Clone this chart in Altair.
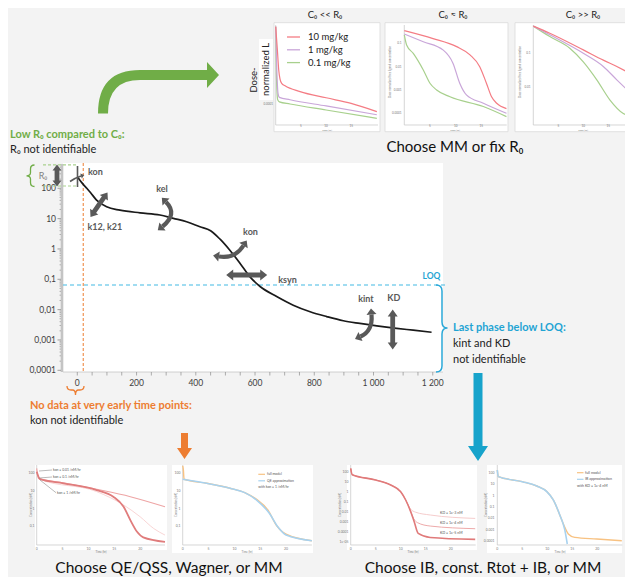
import math
import altair as alt
import pandas as pd

W, H = 617, 569
M = 8  # page margin: reference pixel -> canvas pixel
FONT = "Lato"
BG = "#f3f3f3"
DARK = "#595959"
GREEN = "#70ad47"
CYAN = "#1fa4d3"
ORANGE = "#ed7d31"
AXC = "#c4c4c4"
TICKC = "#8c8c8c"
LBL = "#808080"

ONE = pd.DataFrame({"k": [0]})

# ---------------- main chart data ----------------
MAIN_T = [0, 10, 20, 32, 45, 65, 99, 144, 212, 279, 324, 369, 414, 450, 482, 515, 549, 583, 617,
          673, 729, 786, 842, 898, 954, 1011, 1078, 1134, 1196]
MAIN_C = [240, 178, 135, 100, 71, 41, 24.5, 19, 15.5, 13.2, 10.2, 7.9, 5.4, 4.0, 2.1, 0.91, 0.34,
          0.12, 0.058, 0.027, 0.014, 0.0085, 0.0059, 0.0043, 0.0035, 0.0029, 0.0024, 0.0021, 0.0018]
MAIN_YTICKS = [100, 10, 1, 0.1, 0.01, 0.001, 0.0001]
MAIN_YLABELS = ["100", "10", "1", "0,1", "0,01", "0,001", "0,0001"]
MAIN_XTICKS = [0, 200, 400, 600, 800, 1000, 1200]
MAIN_XLABELS = ["0", "200", "400", "600", "800", "1 000", "1 200"]
LOQ = 0.065
EARLY_T = 20
R0_BAND = [119, 590]

# ---------------- top thumbnails ----------------
T1_RED_T = [0, 0.33, 0.6, 0.86, 1.19, 1.85, 4.83, 10, 14.97, 20.07]
T1_RED_C = [0.575, 0.043, 0.0045, 0.0016, 0.001, 0.00076, 0.0004, 0.0002, 0.000107, 0.0000427]
T1_PUR_T = [0, 0.2, 0.46, 0.73, 2.85, 10, 20.07]
T1_PUR_C = [0.575, 0.0066, 0.00033, 0.00021, 0.00016, 0.00008, 0.00003]
T1_GRN_T = [0, 0.13, 0.4, 0.73, 2.85, 10, 20.07]
T1_GRN_C = [0.575, 0.0031, 0.00016, 0.000126, 0.0001, 0.000051, 0.00002]

T2_RED_T = [0, 5.6, 10.2, 12.8, 14.7, 16.0, 17.0, 18.0, 19.9]
T2_RED_C = [0.35, 0.16, 0.072, 0.032, 0.01, 0.00195, 0.00051, 0.00027, 0.00016]
T2_PUR_T = [0, 3.7, 7.6, 9.5, 10.8, 12.1, 15.4, 19.9]
T2_PUR_C = [0.25, 0.117, 0.051, 0.0138, 0.00195, 0.00062, 0.00027, 0.0001]
T2_GRN_T = [0, 0.45, 1.75, 3.7, 5.0, 6.3, 8.9, 15.4, 19.9]
T2_GRN_C = [0.23, 0.085, 0.037, 0.0072, 0.00195, 0.001, 0.00051, 0.000195, 0.000072]

T3_RED_T = [0, 3.3, 10, 14, 16.7, 19.9]
T3_RED_C = [0.63, 0.39, 0.126, 0.063, 0.041, 0.023]
T3_PUR_T = [0, 3.3, 10, 14, 16.7, 19.9]
T3_PUR_C = [0.63, 0.35, 0.1, 0.041, 0.0166, 0.0059]
T3_GRN_T = [0, 3.3, 7.3, 10, 12.7, 15.3, 18, 19.9]
T3_GRN_C = [0.63, 0.31, 0.141, 0.056, 0.0166, 0.0043, 0.0017, 0.0014]

TOP_XTICKS = [5, 10, 15]
TOP_XLABELS = ["5", "10", "15"]
TOP_YTICKS = [0.1, 0.01, 0.001, 0.0001]
TOP_YLABELS = ["0.1", "0.01", "0.001", "0.0001"]
DOSES = ["10 mg/kg", "1 mg/kg", "0.1 mg/kg"]

# ---------------- bottom thumbnails ----------------
B1_SLOW_T = [0, 0.32, 5.16, 11.6, 18.1, 24.8]
B1_SLOW_C = [190, 52, 29, 12.3, 4.7, 1.26]
B1_MID_T = [0, 0.65, 11.6, 16.8, 20, 22.6, 24.8]
B1_MID_C = [155, 46, 9.1, 1.58, 0.34, 0.074, 0.031]
B1_FAST_T = [0, 0.65, 5.16, 11.6, 14.8, 16.8, 18.1, 19.4, 20.6, 24.8]
B1_FAST_C = [123, 46, 27, 11.2, 4.7, 1.26, 0.22, 0.048, 0.023, 0.0129]
KON_LABELS = ["kon = 0.01 /nM/hr", "kon = 0.1 /nM/hr", "kon = 1 /nM/hr"]

B2_FULL_T = [0, 0.13, 0.26, 4.65, 9.16, 12, 14.3, 16.5, 18.1, 20.0, 25]
B2_FULL_C = [263, 155, 46, 27, 14.1, 8, 3.3, 0.81, 0.115, 0.035, 0.0148]
B2_QE_T = [0, 4.65, 9.16, 12, 14.3, 16.8, 18.4, 20.0, 25.0]
B2_QE_C = [46, 27, 14.1, 8, 3.0, 0.52, 0.091, 0.031, 0.0148]

B3_TOP_T = [0, 0.3, 5, 8, 10, 11, 12, 13, 15.9, 24.9]
B3_TOP_C = [214, 50, 14.8, 4.7, 1.0, 0.148, 0.0178, 0.0089, 0.0047, 0.00214]
B3_MID_T = [0, 0.3, 5, 8, 10, 11, 12, 12.6, 13.4, 15.9, 24.9]
B3_MID_C = [214, 50, 14.8, 4.7, 1.0, 0.148, 0.0112, 0.002, 0.00079, 0.00037, 0.0002]
B3_BOT_T = [0, 0.3, 5, 8, 10, 11, 12, 12.7, 13.5, 15.9, 24.9]
B3_BOT_C = [214, 50, 14.8, 4.7, 1.0, 0.148, 0.01, 0.001, 0.000068, 0.0000269, 0.000017]
KD_LABELS = ["KD = 1e-3 nM", "KD = 1e-4 nM", "KD = 1e-5 nM"]

B4_FULL_T = [0, 0.2, 5, 7.9, 9.9, 11.2, 12.5, 13.5, 14.2, 15.5, 19.9, 24.9]
B4_FULL_C = [170, 45, 16.2, 6.8, 2.2, 0.41, 0.02, 0.00166, 0.00044, 0.00022, 0.000158, 0.000112]
B4_IB_T = [0, 0.2, 5, 7.9, 9.9, 11.2, 12.5, 13.5, 14.0]
B4_IB_C = [170, 45, 16.2, 6.8, 2.2, 0.41, 0.02, 0.00098, 0.0000575]

BOT_XTICKS = [0, 5, 10, 15, 20]
BOT_XLABELS = ["0", "5", "10", "15", "20"]
B12_YTICKS = [100, 10, 1, 0.1]
B12_YLABELS = ["100", "10", "1", "0,1"]
B3_YTICKS = [100, 10, 1, 0.1, 0.01, 0.001, 0.0001, 0.00001]
B3_YLABELS = ["100", "10", "1", "0.1", "0.01", "0.001", "0.0001", "1e-05"]
B4_YTICKS = [100, 10, 1, 0.1, 0.01, 0.001, 0.0001]
B4_YLABELS = ["100", "10", "1", "0.1", "0.01", "0.001", "0.0001"]


# ---------------- helpers ----------------
def P(v):
    return round(v - M, 2)


def txt(s, x, y, size=9.0, color="#222222", weight="normal", align="left", angle=0, baseline="middle"):
    kw = dict(text=s, fontSize=size, color=color, fontWeight=weight, align=align,
              baseline=baseline, font=FONT)
    if angle:
        kw["angle"] = angle
    return alt.Chart(ONE).mark_text(**kw).encode(x=alt.value(P(x)), y=alt.value(P(y)))


def rect(x0, y0, x1, y1, fill, stroke="", sw=0.0):
    kw = dict(fill=fill)
    if stroke:
        kw["stroke"] = stroke
        kw["strokeWidth"] = sw
    else:
        kw["strokeWidth"] = 0
    return alt.Chart(ONE).mark_rect(**kw).encode(
        x=alt.value(P(x0)), x2=alt.value(P(x1)), y=alt.value(P(y0)), y2=alt.value(P(y1)))


def seg(x0, y0, x1, y1, color, width=1.0, dash=None):
    kw = dict(color=color, strokeWidth=width)
    if dash:
        kw["strokeDash"] = dash
    return alt.Chart(ONE).mark_rule(**kw).encode(
        x=alt.value(P(x0)), y=alt.value(P(y0)), x2=alt.value(P(x1)), y2=alt.value(P(y1)))


def cpt(x, y):
    return f"{x - M:.1f},{y - M:.1f}"


def poly_path(pts):
    return "M" + " L".join(cpt(x, y) for x, y in pts) + " Z"


def shape_layer(path, color, filled=True, sw=0.0):
    kw = dict(shape=path, size=4, opacity=1, color=color, filled=filled)
    if filled:
        kw["strokeWidth"] = 0
    else:
        kw["strokeWidth"] = sw
        kw["strokeCap"] = "butt"
    return alt.Chart(ONE).mark_point(**kw).encode(x=alt.value(0), y=alt.value(0))


def head_pts(bx, by, dx, dy, h=6.0, hw=5.0):
    n = math.hypot(dx, dy)
    dx, dy = dx / n, dy / n
    return [(bx + dx * h, by + dy * h), (bx - dy * hw, by + dx * hw), (bx + dy * hw, by - dx * hw)]


def dbl_arrow(cx, cy, L, ang, color=DARK, w=2.2, h=6.0, hw=4.8):
    a = L / 2
    local = [(-a, 0), (-a + h, -hw), (-a + h, -w), (a - h, -w), (a - h, -hw), (a, 0),
             (a - h, hw), (a - h, w), (-a + h, w), (-a + h, hw)]
    th = math.radians(ang)
    pts = [(cx + x * math.cos(th) - y * math.sin(th), cy + x * math.sin(th) + y * math.cos(th))
           for x, y in local]
    return shape_layer(poly_path(pts), color)


def curved_arrow(p0, c, p2, color=DARK, sw=4.2, h=6.0, hw=5.0, heads=(True, True)):
    out = [shape_layer(f"M{cpt(*p0)} Q{cpt(*c)} {cpt(*p2)}", color, filled=False, sw=sw)]
    if heads[0]:
        out.append(shape_layer(poly_path(head_pts(p0[0], p0[1], p0[0] - c[0], p0[1] - c[1], h, hw)), color))
    if heads[1]:
        out.append(shape_layer(poly_path(head_pts(p2[0], p2[1], p2[0] - c[0], p2[1] - c[1], h, hw)), color))
    return out


def thumb(xr, yr, xdom, ydom, curves, xticks, xlabels, yticks, ylabels, ylab_x, xlab_y, fs=3.4):
    xs = alt.Scale(domain=xdom, range=[P(xr[0]), P(xr[1])], zero=False, nice=False)
    ys = alt.Scale(type="log", domain=ydom, range=[P(yr[1]), P(yr[0])], nice=False)
    out = [seg(xr[0], yr[0], xr[0], yr[1], AXC, 0.7), seg(xr[0], yr[1], xr[1], yr[1], AXC, 0.7)]
    for t, c, color, width in curves:
        df = pd.DataFrame({"t": t, "c": c})
        out.append(alt.Chart(df).mark_line(color=color, strokeWidth=width, interpolate="monotone").encode(
            x=alt.X("t:Q", scale=xs, axis=None), y=alt.Y("c:Q", scale=ys, axis=None)))
    out.append(alt.Chart(pd.DataFrame({"v": xticks, "l": xlabels})).mark_text(
        fontSize=fs, color="#777777", font=FONT, baseline="top").encode(
        x=alt.X("v:Q", scale=xs, axis=None), y=alt.value(P(xlab_y)), text="l:N"))
    out.append(alt.Chart(pd.DataFrame({"v": yticks, "l": ylabels})).mark_text(
        fontSize=fs, color="#777777", font=FONT, align="right", baseline="middle").encode(
        y=alt.Y("v:Q", scale=ys, axis=None), x=alt.value(P(ylab_x)), text="l:N"))
    return out


layers = []

# ---------------- main chart ----------------
main_x = alt.Scale(domain=[-48.3, 1234.6], range=[P(63), P(443)], zero=False, nice=False)
main_y = alt.Scale(type="log", domain=[8.79e-5, 682], range=[P(372), P(163)], nice=False)

layers.append(rect(63, 163, 443, 372, "white"))
# axes
layers.append(seg(62, 164, 62, 372, AXC, 2.6))
layers.append(seg(63, 372, 443, 372, AXC, 0.8))
layers.append(alt.Chart(pd.DataFrame({"v": MAIN_YTICKS})).mark_rule(color=TICKC, strokeWidth=0.8).encode(
    y=alt.Y("v:Q", scale=main_y, axis=None), x=alt.value(P(57.5)), x2=alt.value(P(61))))
minor_y = [m * 10.0 ** e for e in range(-4, 3) for m in range(2, 10) if m * 10.0 ** e < 600]
layers.append(alt.Chart(pd.DataFrame({"v": minor_y})).mark_rule(color=TICKC, strokeWidth=0.6).encode(
    y=alt.Y("v:Q", scale=main_y, axis=None), x=alt.value(P(59.5)), x2=alt.value(P(61))))
layers.append(alt.Chart(pd.DataFrame({"v": list(range(0, 1201, 50))})).mark_rule(color=TICKC, strokeWidth=0.7).encode(
    x=alt.X("v:Q", scale=main_x, axis=None), y=alt.value(P(372)), y2=alt.value(P(375.5))))
layers.append(alt.Chart(pd.DataFrame({"v": MAIN_YTICKS, "l": MAIN_YLABELS})).mark_text(
    fontSize=8.5, color="#404040", font=FONT, align="right", baseline="middle").encode(
    y=alt.Y("v:Q", scale=main_y, axis=None), x=alt.value(P(56)), text="l:N"))
layers.append(alt.Chart(pd.DataFrame({"v": MAIN_XTICKS, "l": MAIN_XLABELS})).mark_text(
    fontSize=8.5, color="#404040", font=FONT, baseline="middle").encode(
    x=alt.X("v:Q", scale=main_x, axis=None), y=alt.value(P(382.5)), text="l:N"))

# reference lines
layers.append(alt.Chart(pd.DataFrame({"c": [LOQ]})).mark_rule(color="#43b9e3", strokeWidth=1.1, strokeDash=[4, 3]).encode(
    y=alt.Y("c:Q", scale=main_y, axis=None), x=alt.value(P(63)), x2=alt.value(P(447))))
layers.append(alt.Chart(pd.DataFrame({"t": [EARLY_T]})).mark_rule(color=ORANGE, strokeWidth=1.0, strokeDash=[3, 2]).encode(
    x=alt.X("t:Q", scale=main_x, axis=None), y=alt.value(P(163)), y2=alt.value(P(372))))
layers.append(alt.Chart(pd.DataFrame({"c": R0_BAND})).mark_rule(color="#a9d18e", strokeWidth=1.2, strokeDash=[3, 2]).encode(
    y=alt.Y("c:Q", scale=main_y, axis=None), x=alt.value(P(43)), x2=alt.value(P(78))))

# curve
layers.append(alt.Chart(pd.DataFrame({"t": MAIN_T, "c": MAIN_C})).mark_line(
    color="#1a1a1a", strokeWidth=1.7, interpolate="monotone").encode(
    x=alt.X("t:Q", scale=main_x, axis=None), y=alt.Y("c:Q", scale=main_y, axis=None)))

# parameter arrows
layers.append(dbl_arrow(57, 175.5, 22, 90, w=2.4, h=6, hw=4.5))
layers.append(dbl_arrow(99, 204.7, 30, -55.3, w=2.4, h=6.5, hw=5))
layers.append(dbl_arrow(246.7, 275, 41, 0, w=2.4, h=7, hw=5.5))
layers.append(dbl_arrow(392.7, 329.5, 40, 90, w=2.4, h=7, hw=5))
layers += curved_arrow((166, 202), (178, 214), (162.5, 226.5))
layers += curved_arrow((219, 256.5), (235, 259), (243.5, 245.5))
layers += curved_arrow((371.5, 314.5), (373, 331), (360.5, 336.5))
layers.append(seg(77.5, 166, 77.5, 187, DARK, 1.6))
layers.append(shape_layer(f"M{cpt(70, 181.5)} Q{cpt(75, 178)} {cpt(81, 176)}", DARK, filled=False, sw=1.6))
layers.append(shape_layer(poly_path(head_pts(81, 176, 6, -2, 3.5, 2.6)), DARK))

# parameter labels
for s, x, y, al in [("kon", 88, 172, "left"), ("k12, k21", 87.5, 226.5, "left"), ("kel", 162, 188.5, "center"),
                    ("kon", 250.5, 232, "center"), ("ksyn", 287.5, 279.5, "center"),
                    ("kint", 366, 298.5, "center"), ("KD", 393.8, 297.5, "center")]:
    layers.append(txt(s, x, y, 9, DARK, "bold", al))
layers.append(txt("LOQ", 431.5, 276, 8.5, CYAN, "bold", "center"))
layers.append(txt("R₀", 43, 176, 9, LBL, "normal", "center"))

# braces
layers.append(shape_layer(
    f"M{cpt(34.5, 165)} Q{cpt(30.5, 165)} {cpt(30.5, 169)} L{cpt(30.5, 172.5)} Q{cpt(30.5, 175.8)} {cpt(26.5, 175.8)} "
    f"Q{cpt(30.5, 175.8)} {cpt(30.5, 179)} L{cpt(30.5, 182.5)} Q{cpt(30.5, 186.5)} {cpt(34.5, 186.5)}",
    GREEN, filled=False, sw=1.3))
layers.append(shape_layer(
    f"M{cpt(436, 285)} Q{cpt(442, 285)} {cpt(442, 291)} L{cpt(442, 322)} Q{cpt(442, 328)} {cpt(447.5, 328)} "
    f"Q{cpt(442, 328)} {cpt(442, 334)} L{cpt(442, 366)} Q{cpt(442, 372)} {cpt(436, 372)}",
    "#2aa8d8", filled=False, sw=1.5))
layers.append(shape_layer(
    f"M{cpt(67, 386)} Q{cpt(67, 390)} {cpt(71, 390)} L{cpt(72.5, 390)} Q{cpt(75.5, 390)} {cpt(75.5, 395)} "
    f"Q{cpt(75.5, 390)} {cpt(78.5, 390)} L{cpt(80, 390)} Q{cpt(84, 390)} {cpt(84, 386)}",
    ORANGE, filled=False, sw=1.3))

# big arrows
layers.append(shape_layer(
    f"M{cpt(98, 113.5)} Q{cpt(98, 70)} {cpt(140, 70)} L{cpt(207, 70)} L{cpt(207, 62)} L{cpt(219, 75)} "
    f"L{cpt(207, 88)} L{cpt(207, 80)} L{cpt(140, 80)} Q{cpt(108, 80)} {cpt(108, 113.5)} Z", GREEN))
layers.append(shape_layer(poly_path([(473.5, 373), (482.5, 373), (482.5, 446), (488, 446), (478, 461),
                                     (468, 446), (473.5, 446)]), "#17a3cb"))
layers.append(shape_layer(poly_path([(181, 433), (188, 433), (188, 448), (192, 448), (184.5, 459),
                                     (177, 448), (181, 448)]), ORANGE))

# text blocks
layers.append(txt("Low R₀ compared to C₀:", 10, 135, 11, GREEN, "bold"))
layers.append(txt("R₀ not identifiable", 10, 150, 11, "#222222"))
layers.append(txt("Last phase below LOQ:", 453, 328, 11, CYAN, "bold"))
layers.append(txt("kint and KD", 453, 344, 11, "#222222"))
layers.append(txt("not identifiable", 453, 360, 11, "#222222"))
layers.append(txt("No data at very early time points:", 30, 406, 11, ORANGE, "bold"))
layers.append(txt("kon not identifiable", 30, 421, 11, "#222222"))
layers.append(txt("Choose MM or fix R₀", 455, 147, 15, "#111111", "normal", "center"))
layers.append(txt("Choose QE/QSS, Wagner, or MM", 169, 568, 15.5, "#111111", "normal", "center"))
layers.append(txt("Choose IB, const. Rtot + IB, or MM", 483, 568, 15.5, "#111111", "normal", "center"))

# ---------------- top thumbnails ----------------
RED, PUR, GRN = "#f47c84", "#c9a6d9", "#a8d08d"
for x0, x1 in [(274, 380), (385, 508), (515, 640)]:
    layers.append(rect(x0, 22.7, x1, 131.7, "white", "#d9d9d9", 0.8))
layers += thumb((275.7, 378), (25, 125), [0, 20.3], [9.5e-6, 0.69],
                [(T1_GRN_T, T1_GRN_C, GRN, 1.2), (T1_PUR_T, T1_PUR_C, PUR, 1.2), (T1_RED_T, T1_RED_C, RED, 1.2)],
                TOP_XTICKS, TOP_XLABELS, TOP_YTICKS, TOP_YLABELS, 273, 125.4, 3.0)
layers += thumb((404.3, 506.7), (25, 125), [0, 19.95], [3.16e-5, 0.61],
                [(T2_GRN_T, T2_GRN_C, GRN, 1.2), (T2_PUR_T, T2_PUR_C, PUR, 1.2), (T2_RED_T, T2_RED_C, RED, 1.2)],
                TOP_XTICKS, TOP_XLABELS, TOP_YTICKS, TOP_YLABELS, 401.5, 125.4, 3.0)
layers += thumb((533.3, 633), (25, 125), [0, 19.94], [7.8e-4, 0.68],
                [(T3_GRN_T, T3_GRN_C, GRN, 1.2), (T3_PUR_T, T3_PUR_C, PUR, 1.2), (T3_RED_T, T3_RED_C, RED, 1.2)],
                TOP_XTICKS, TOP_XLABELS, TOP_YTICKS[:2], TOP_YLABELS[:2], 530.5, 125.4, 3.0)
for cx in [327, 455, 583]:
    layers.append(txt("Time (hr)", cx, 130.3, 2.5, "#777777", "normal", "center"))
for cx in [389.5, 519.5]:
    layers.append(txt("Dose normalized free ligand concentration", cx, 72, 2.8, "#777777", "normal", "center", 270))
layers.append(rect(259, 39, 273, 100, "white"))
layers.append(txt("Dose-", 253.5, 80, 9.5, "#222222", "normal", "center", 270))
layers.append(txt("normalized L", 266, 69.5, 9.5, "#222222", "normal", "center", 270))
for i, (lab, col) in enumerate(zip(DOSES, [RED, PUR, GRN])):
    y = 37 + 12.8 * i
    layers.append(seg(287, y, 300, y, col, 1.3))
    layers.append(txt(lab, 308, y, 9.5, "#222222"))
layers.append(txt("C₀ << R₀", 325, 15, 9.5, "#222222", "normal", "center"))
layers.append(txt("C₀ ≈ R₀", 453, 15, 9.5, "#222222", "normal", "center"))
layers.append(txt("C₀ >> R₀", 583, 15, 9.5, "#222222", "normal", "center"))

# ---------------- bottom thumbnails ----------------
ORG, BLU = "#f8c282", "#a8d2ef"
for x0, x1, y1 in [(35, 167, 550), (172, 313, 553), (347, 477, 550), (487, 622, 553)]:
    layers.append(rect(x0, 465, x1, y1, "white"))
layers += thumb((36.7, 165), (465, 545), [0, 24.8], [0.0085, 295],
                [(B1_MID_T, B1_MID_C, "#f6caca", 0.8), (B1_SLOW_T, B1_SLOW_C, "#eea5a5", 1.1),
                 (B1_FAST_T, B1_FAST_C, "#e07c7c", 1.8)],
                BOT_XTICKS, BOT_XLABELS, B12_YTICKS, B12_YLABELS, 34.5, 546.5)
layers += thumb((182.7, 311.9), (465, 545), [0, 25], [0.0085, 295],
                [(B2_FULL_T, B2_FULL_C, ORG, 1.4), (B2_QE_T, B2_QE_C, BLU, 1.6)],
                BOT_XTICKS, BOT_XLABELS, B12_YTICKS, B12_YLABELS, 180.5, 546.5)
layers += thumb((350.7, 475.7), (465, 545), [0, 25], [4.7e-6, 468],
                [(B3_TOP_T, B3_TOP_C, "#f4c6c6", 0.9), (B3_MID_T, B3_MID_C, "#eeaaaa", 1.0),
                 (B3_BOT_T, B3_BOT_C, "#e07a7a", 1.6)],
                BOT_XTICKS, BOT_XLABELS, B3_YTICKS, B3_YLABELS, 348.5, 546.5)
layers += thumb((497.3, 622.3), (465, 545), [0, 25], [4.7e-5, 468],
                [(B4_FULL_T, B4_FULL_C, ORG, 1.4), (B4_IB_T, B4_IB_C, BLU, 1.6)],
                BOT_XTICKS, BOT_XLABELS, B4_YTICKS, B4_YLABELS, 494.5, 546.5)
for cx in [101, 247, 413, 560]:
    layers.append(txt("Time (hr)", cx, 552, 2.8, "#777777", "normal", "center"))
for cx in [31, 176, 340, 486]:
    layers.append(txt("Concentration (nM)", cx, 505, 2.8, "#777777", "normal", "center", 270))
# B1 annotations
for (lab, y, x), (ex, ey) in zip([(KON_LABELS[0], 470, 53), (KON_LABELS[1], 477, 53), (KON_LABELS[2], 492.7, 57)],
                                 [(39, 471), (39, 478), (40, 480)]):
    layers.append(seg(x - 1, y, ex, ey, "#777777", 0.5))
    layers.append(txt(lab, x, y, 3.4, "#555555"))
# B2 legend
layers.append(seg(258.3, 474.3, 265, 474.3, ORG, 1.2))
layers.append(txt("full model", 267, 474.3, 3.4, "#555555"))
layers.append(seg(258.3, 480.8, 265, 480.8, BLU, 1.2))
layers.append(txt("QE approximation", 267, 480.8, 3.4, "#555555"))
layers.append(txt("with kon = 1 /nM/hr", 258.3, 487.3, 3.4, "#555555"))
# B3 labels
for lab, y in zip(KD_LABELS, [512.7, 522.7, 533.3]):
    layers.append(txt(lab, 440, y, 3.6, "#555555"))
# B4 legend
layers.append(seg(577, 472.7, 583.5, 472.7, ORG, 1.2))
layers.append(txt("full model", 585, 472.7, 3.6, "#555555"))
layers.append(seg(577, 479.3, 583.5, 479.3, BLU, 1.2))
layers.append(txt("IB approximation", 585, 479.3, 3.6, "#555555"))
layers.append(txt("with KD = 1e-4 nM", 577, 486, 3.6, "#555555"))

chart = alt.layer(*layers).resolve_scale(x="independent", y="independent").properties(
    width=W, height=H, background=BG, padding=0, autosize=alt.AutoSizeParams(type="none")
).configure_view(strokeWidth=0)

chart.save("out.html", embed_options={"renderer": "svg", "actions": False})
